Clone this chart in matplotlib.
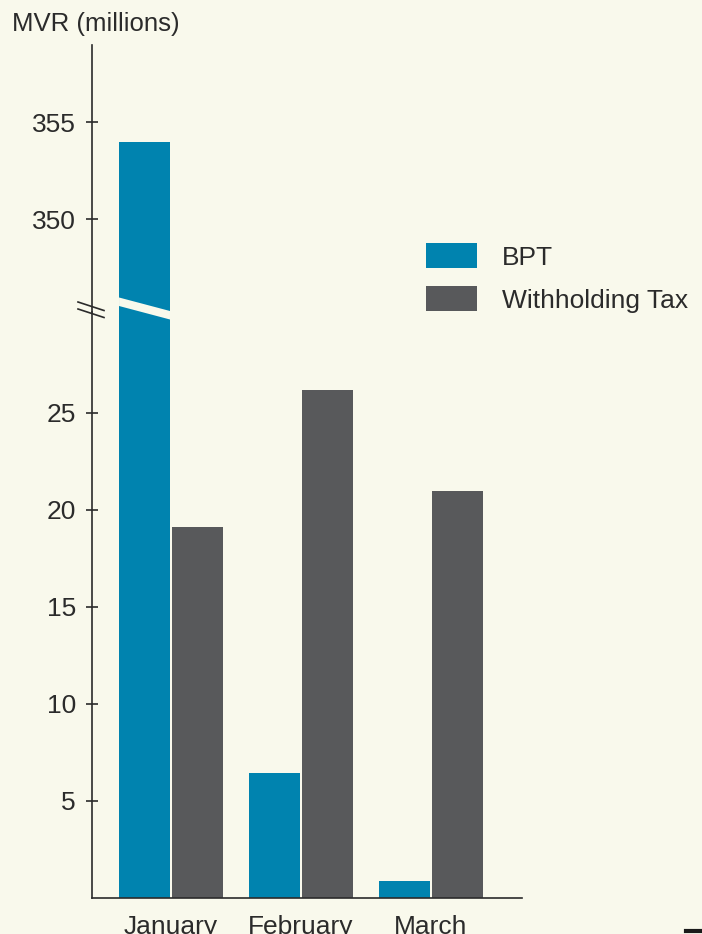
import matplotlib
matplotlib.use("Agg")
import matplotlib.pyplot as plt
import numpy as np
from matplotlib.patches import Polygon, Patch
from matplotlib.lines import Line2D
from matplotlib.transforms import blended_transform_factory

months = ["January", "February", "March"]
bpt = [354.0, 6.45, 0.9]
withholding = [19.1, 26.2, 21.0]
low_ticks = [5, 10, 15, 20, 25]
high_ticks = [350, 355]

BLUE = "#0083AF"
GREY = "#58595B"
BG = "#F9F9EC"
TXT = "#2B2B2B"

plt.rcParams['font.family'] = ['Liberation Sans', 'DejaVu Sans']

W, H = 702, 934
fig = plt.figure(figsize=(W / 100, H / 100), dpi=100, facecolor=BG)


def fx(px):
    return px / W


def fy(py):
    return 1 - py / H


left, right = 92, 522
y_axis_bottom, y_break, y_top = 898, 312, 45

ax_low = fig.add_axes([fx(left), fy(y_axis_bottom), fx(right - left), (y_axis_bottom - y_break) / H])
ax_high = fig.add_axes([fx(left), fy(y_break), fx(right - left), (y_break - y_top) / H])

x = np.arange(len(months))
width = 0.392
off = 0.204

for ax in (ax_low, ax_high):
    ax.set_facecolor("none")
    ax.bar(x - off, bpt, width, color=BLUE, zorder=2)
    ax.bar(x + off, withholding, width, color=GREY, zorder=2)
    ax.set_xlim(-0.608, 2.70)
    for s in ("top", "right"):
        ax.spines[s].set_visible(False)
    ax.spines["left"].set_color(TXT)
    ax.spines["left"].set_linewidth(1.2)
    ax.tick_params(axis="y", direction="inout", length=9, width=1.2, color=TXT,
                   labelsize=19, labelcolor=TXT, pad=7)

ax_low.set_ylim(0, 30.2)
ax_low.set_yticks(low_ticks)
ax_low.spines["bottom"].set_color(TXT)
ax_low.spines["bottom"].set_linewidth(1.2)
ax_low.set_xticks(x)
ax_low.set_xticklabels(months)
ax_low.tick_params(axis="x", length=0, labelsize=19, labelcolor=TXT, pad=12)

ax_high.set_ylim(345.2, 359.0)
ax_high.set_yticks(high_ticks)
ax_high.spines["bottom"].set_visible(False)
ax_high.set_xticks([])

# white cut across the tall January bar
tr = blended_transform_factory(ax_low.transData, fig.transFigure)
x0, x1 = x[0] - off - width / 2, x[0] - off + width / 2
band = Polygon([(x0, fy(297.5)), (x1, fy(311)), (x1, fy(319.5)), (x0, fy(306))],
               closed=True, facecolor=BG, edgecolor="none", transform=tr, zorder=10)
fig.add_artist(band)

# axis break marks
for dy in (0, 7):
    fig.add_artist(Line2D([fx(78), fx(104)], [fy(302 + dy), fy(310.5 + dy)],
                          color=TXT, lw=1.2, transform=fig.transFigure, zorder=11))

fig.text(fx(12), fy(31), "MVR (millions)", fontsize=18.5, color=TXT, ha="left", va="baseline")

handles = [Patch(facecolor=BLUE), Patch(facecolor=GREY)]
fig.legend(handles, ["BPT", "Withholding Tax"], loc="upper left",
           bbox_to_anchor=(fx(426), fy(243)), frameon=False, fontsize=19,
           borderpad=0, borderaxespad=0,
           handlelength=1.93, handleheight=1.1, handletextpad=0.95, labelspacing=0.62,
           labelcolor=TXT)

# small dark mark in the lower right corner
fig.add_artist(Line2D([fx(686), fx(702)], [fy(931), fy(931)], color="#1a1a1a",
                      lw=3, transform=fig.transFigure))

fig.savefig("out.png", dpi=100, facecolor=BG)
